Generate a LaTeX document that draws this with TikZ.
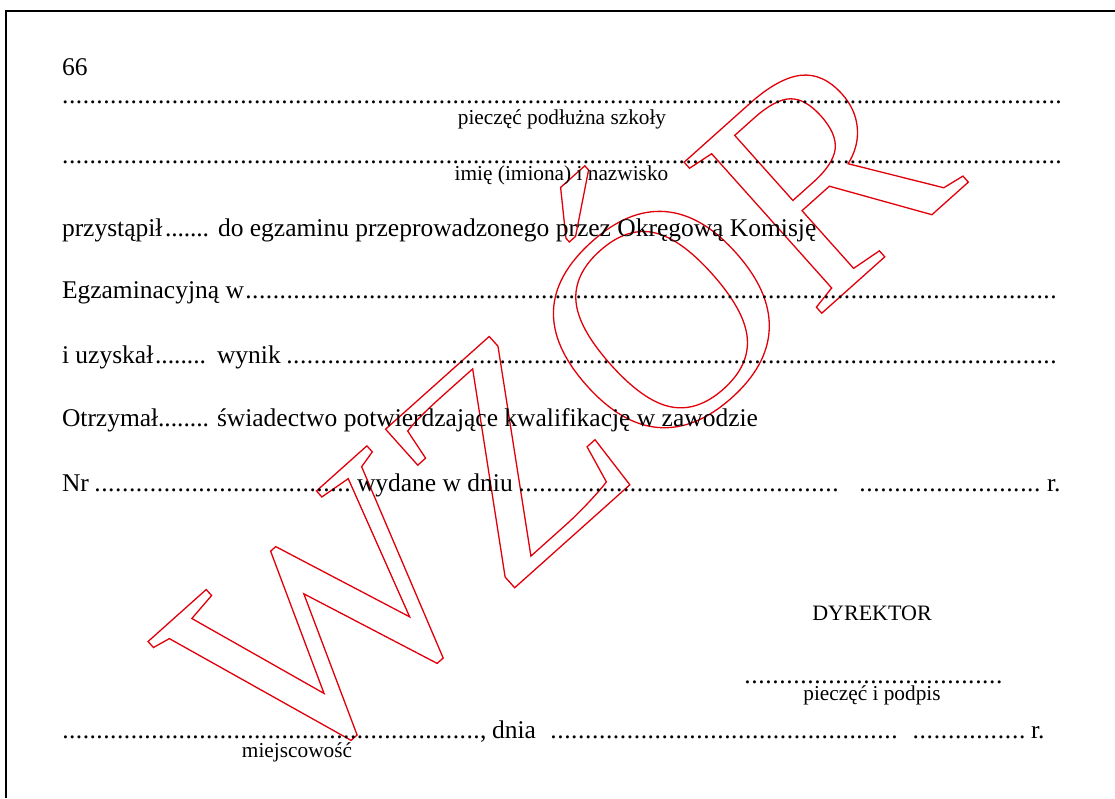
\documentclass[tikz,border=0pt]{standalone}
\usepackage{fontspec}
\setmainfont{Liberation Serif}
\definecolor{wmred}{RGB}{225,0,10}
\newcommand\dotrun[2][6.83pt]{\hbox to #2{\xleaders\hbox to #1{\hss.\hss}\hfill}}
\newcommand\outlinetext[1]{\special{pdf:literal direct 1 Tr 1.3 w}#1\special{pdf:literal direct 0 Tr}}
\begin{document}
\begin{tikzpicture}[x=1pt,y=-1pt,
  txt/.style={inner sep=0pt,outer sep=0pt,anchor=base west,font=\fontsize{25.5}{30}\selectfont},
  lab/.style={inner sep=0pt,outer sep=0pt,anchor=base,font=\fontsize{21.3}{26}\selectfont},
  captxt/.style={inner sep=0pt,outer sep=0pt,anchor=base,font=\fontsize{22}{26}\selectfont},
  wm/.style={inner sep=0pt,outer sep=0pt,anchor=base west,rotate=41.8,text=wmred,font=\fontsize{312}{320}\selectfont},
  frame/.style={line width=2.8pt,black}]
\useasboundingbox (0,0) rectangle (1115,798);
% watermark (outlined red letters)
\coordinate (wmo) at (284,794);
\node[wm] (wzor) at (wmo) {\outlinetext{WZÓR}};
% frame
\coordinate (fbl) at (6,798);
\coordinate (ftl) at (6,11);
\coordinate (ftr) at (1115,11);
\draw[frame] (fbl) -- (ftl) -- (ftr);
% page number
\node[txt] (num) at (62,75) {66};
% school stamp
\node[txt] (d1) at (62,103.3) {\dotrun{1000pt}};
\node[lab] (l1) at (562,124) {pieczęć podłużna szkoły};
% name
\node[txt] (d2) at (62,163.3) {\dotrun{1000pt}};
\node[lab] (l2) at (561.5,180) {imię (imiona) i nazwisko};
% row przystąpił
\node[txt] (r6a) at (62,236) {przystąpił};
\node[txt] (r6d) at (165,236) {\dotrun[6.1pt]{44pt}};
\node[txt] (r6b) at (218,236) {do egzaminu przeprowadzonego przez Okręgową Komisję};
% row Egzaminacyjną
\node[txt] (r7a) at (62,298) {Egzaminacyjną w};
\node[txt] (r7d) at (245,298) {\dotrun{812pt}};
% row uzyskał
\node[txt] (r8a) at (62,363) {i uzyskał};
\node[txt] (r8d1) at (155,363) {\dotrun[6.3pt]{51pt}};
\node[txt] (r8b) at (217,363) {wynik};
\node[txt] (r8d2) at (286,363) {\dotrun{771pt}};
% row Otrzymał
\node[txt] (r9a) at (62,426) {Otrzymał};
\node[txt] (r9d) at (158,426) {\dotrun[6.3pt]{51pt}};
\node[txt] (r9b) at (217,426) {świadectwo potwierdzające kwalifikację w zawodzie};
% row Nr
\node[txt] (r10a) at (62,491) {Nr};
\node[txt] (r10d1) at (94,491) {\dotrun{257pt}};
\node[txt] (r10b) at (357,491) {wydane w dniu};
\node[txt] (r10d2) at (518,491) {\dotrun{321pt}};
\node[txt] (r10d3) at (859,491) {\dotrun{182pt}};
\node[txt] (r10c) at (1047,491) {r.};
% director
\node[captxt] (dyr) at (872,620) {DYREKTOR};
\node[txt] (d12) at (744,683.5) {\dotrun{259pt}};
\node[lab] (l12) at (872,700) {pieczęć i podpis};
% place / date
\node[txt] (r13d1) at (62,738) {\dotrun{418pt}};
\node[txt] (r13a) at (480,738) {,};
\node[txt] (r13b) at (492,738) {dnia};
\node[txt] (r13d2) at (550,738) {\dotrun{348pt}};
\node[txt] (r13d3) at (912,738) {\dotrun{114pt}};
\node[txt] (r13c) at (1031,738) {r.};
\node[lab] (l13) at (297,757) {miejscowość};
\end{tikzpicture}
\end{document}
